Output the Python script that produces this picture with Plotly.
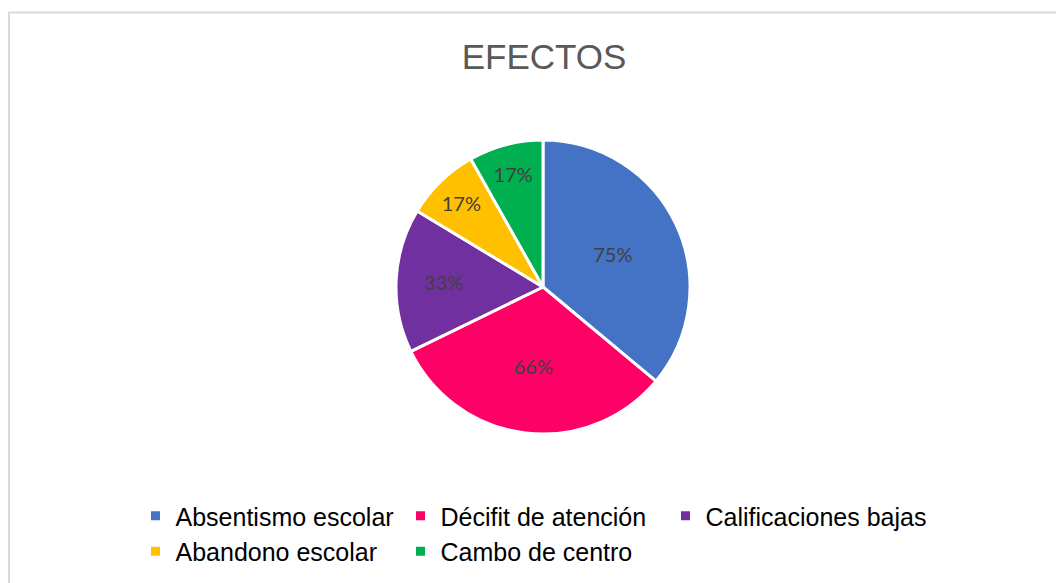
import plotly.graph_objects as go

categories = ["Absentismo escolar", "Décifit de atención", "Calificaciones bajas",
              "Abandono escolar", "Cambo de centro"]
values = [75, 66, 33, 17, 17]
labels_text = ["75%", "66%", "33%", "17%", "17%"]
colors = ["#4472C4", "#FF0066", "#7030A0", "#FFC000", "#00B050"]

W, H = 1064, 583
OFF = 8  # page body margin
ML, MR = 80, 80
PW = W - ML - MR


def px_to_x(px):
    return (px - OFF - ML) / PW


def px_to_y(py):
    return 1 - (py - OFF) / H


cx, cy, r = 543, 287, 147

fig = go.Figure(go.Pie(
    labels=categories,
    values=values,
    text=labels_text,
    textinfo="text",
    textposition="inside",
    insidetextorientation="horizontal",
    insidetextfont=dict(family="Lato", size=20, color="#404040"),
    marker=dict(colors=colors, line=dict(color="white", width=3)),
    sort=False,
    direction="clockwise",
    rotation=0,
    hole=0,
    domain=dict(x=[px_to_x(cx - r), px_to_x(cx + r)], y=[px_to_y(cy + r), px_to_y(cy - r)]),
))

fig.update_layout(
    width=W, height=H,
    margin=dict(l=ML, r=MR, t=0, b=0),
    paper_bgcolor="white",
    plot_bgcolor="white",
    title=dict(text="EFECTOS", x=(544 - OFF) / W, xanchor="center", y=1 - (57 - OFF) / H,
               yanchor="middle",
               font=dict(family="Liberation Sans, Arial", size=35, color="#595959")),
    showlegend=True,
    legend=dict(orientation="h", x=px_to_x(533), xanchor="center", y=px_to_y(493),
                yanchor="top",
                font=dict(family="Liberation Sans, Arial", size=25, color="#000000"),
                entrywidth=220, entrywidthmode="pixels", traceorder="normal",
                itemclick=False),
    shapes=[dict(type="rect", xref="paper", yref="paper",
                 x0=px_to_x(9), x1=px_to_x(1080), y0=-0.02, y1=px_to_y(12.5),
                 line=dict(color="#D9D9D9", width=2), fillcolor="rgba(0,0,0,0)")],
)

fig.write_html("out.html")
